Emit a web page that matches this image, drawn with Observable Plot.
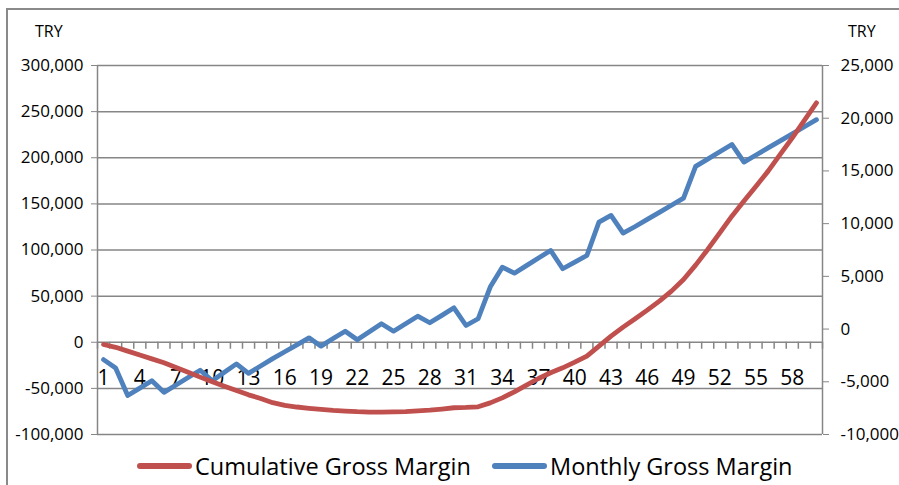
<!DOCTYPE html>
<html>
<head>
<meta charset="utf-8">
<script src="https://cdn.jsdelivr.net/npm/d3@7"></script>
<script src="https://cdn.jsdelivr.net/npm/@observablehq/plot@0.6"></script>
<style>
  body { margin: 0; background: #fff; font-family: "Open Sans", sans-serif; }
  #wrap { position: relative; width: 899px; height: 485px; overflow: hidden; background: #fff; }
  #border { position: absolute; left: 6px; top: 8px; width: 1000px; height: 700px;
            border-left: 2px solid #8a8a8a; border-top: 2px solid #8a8a8a; }
  #chart { position: absolute; left: 0; top: 0; }
  .unit { position: absolute; top: 21px; font-size: 16px; color: #000; line-height: 20px; }
  .item { position: absolute; top: 450px; height: 32px; display: flex; align-items: center;
          font-size: 23.5px; color: #000; white-space: nowrap; }
  .swatch { width: 55px; height: 6px; border-radius: 3px; margin-right: 3px; }
</style>
</head>
<body>
<div id="wrap">
  <div id="border"></div>
  <div id="chart"></div>
  <div class="unit" style="left:35px">TRY</div>
  <div class="unit" style="left:848px">TRY</div>
  <div id="legend"></div>
</div>
<script>
// ---- data ----
const months = Array.from({length: 60}, (_, i) => i + 1);
const cumulative = [
  -2400, -5500, -9600, -13800, -18000, -22300, -27300, -32500, -37800, -42800,
  -47600, -52300, -57000, -61000, -65500, -68500, -70200, -71600, -72800, -73900,
  -74600, -75300, -75700, -75800, -75500, -75100, -74400, -73600, -72400, -71000,
  -70700, -70000, -65700, -60300, -53800, -46500, -39300, -33100, -27700, -21600,
  -15100, -4200, 6600, 16400, 25500, 34800, 44600, 55400, 68100, 83600,
  100600, 118600, 136700, 153000, 169200, 185500, 203600, 221600, 240400, 259500
];
const monthly = [
  -2900, -3700, -6300, -5600, -4900, -6000, -5300, -4600, -3900, -4900,
  -4100, -3300, -4200, -3500, -2800, -2150, -1500, -830, -1620, -900,
  -200, -1020, -260, 500, -200, 500, 1220, 600, 1300, 2020,
  340, 980, 3980, 5870, 5300, 6020, 6740, 7460, 5720, 6350,
  6980, 10140, 10780, 9100, 9730, 10400, 11070, 11750, 12420, 15430,
  16120, 16820, 17510, 15840, 16510, 17180, 17850, 18520, 19190, 19860
];
const leftTicks = [-100000, -50000, 0, 50000, 100000, 150000, 200000, 250000, 300000];
const rightTicks = [-10000, -5000, 0, 5000, 10000, 15000, 20000, 25000];
const xLabels = [1, 4, 7, 10, 13, 16, 19, 22, 25, 28, 31, 34, 37, 40, 43, 46, 49, 52, 55, 58];
const seriesNames = ["Cumulative Gross Margin", "Monthly Gross Margin"];
const seriesColors = ["#C0504D", "#4F81BD"];
const unitLabel = "TRY";

// ---- scales helpers ----
const L = [leftTicks[0], leftTicks[leftTicks.length - 1]];
const R = [rightTicks[0], rightTicks[rightTicks.length - 1]];
const toLeft = d3.scaleLinear().domain(R).range(L);
const xDomain = [months[0] - 0.5, months[months.length - 1] + 0.5];
const boundaries = [months[0] - 0.5, ...months.map(m => m + 0.5)];
const fmt = v => (Math.round(v) || 0).toLocaleString("en-US");
const grid = "#868686";

const chart = Plot.plot({
  width: 899,
  height: 485,
  marginLeft: 97,
  marginRight: 77,
  marginTop: 65,
  marginBottom: 51,
  style: { fontFamily: "Open Sans, sans-serif", fontSize: "17px", color: "#000", background: "transparent", overflow: "visible" },
  x: { domain: xDomain, axis: null },
  y: { domain: L },
  marks: [
    Plot.ruleY(leftTicks, { stroke: grid, strokeWidth: 1.5 }),
    Plot.ruleX(xDomain, { y1: L[0], y2: L[1], stroke: grid, strokeWidth: 1.5 }),
    Plot.ruleX(boundaries, { y1: 0, y2: 0, insetBottom: -7, stroke: grid, strokeWidth: 1.5 }),
    Plot.axisY({ ticks: leftTicks, tickFormat: fmt, tickSize: 6, tickPadding: 8,
                 stroke: grid, fill: "#000", fontSize: 17, label: null }),
    Plot.axisY({ anchor: "right", ticks: rightTicks.map(toLeft), tickFormat: d => fmt(toLeft.invert(d)),
                 tickSize: 6, tickPadding: 12, stroke: grid, fill: "#000", fontSize: 17, label: null }),
    Plot.text(xLabels, { x: d => d, y: () => 0, dy: 36, text: d => String(d), fontSize: 21, fill: "#000" }),
    Plot.line(months, { x: months, y: monthly.map(toLeft), stroke: seriesColors[1], strokeWidth: 4.8,
                        strokeLinejoin: "round", strokeLinecap: "round" }),
    Plot.line(months, { x: months, y: cumulative, stroke: seriesColors[0], strokeWidth: 4.8,
                        strokeLinejoin: "round", strokeLinecap: "round" })
  ]
});
document.getElementById("chart").appendChild(chart);

// legend
const legend = document.getElementById("legend");
const legendLeft = [137, 492];
seriesNames.forEach((name, i) => {
  const item = document.createElement("div");
  item.className = "item";
  item.style.left = legendLeft[i] + "px";
  const sw = document.createElement("div");
  sw.className = "swatch";
  sw.style.background = seriesColors[i];
  const tx = document.createElement("span");
  tx.textContent = name;
  item.appendChild(sw);
  item.appendChild(tx);
  legend.appendChild(item);
});
document.querySelectorAll(".unit").forEach(el => el.textContent = unitLabel);
</script>
</body>
</html>
